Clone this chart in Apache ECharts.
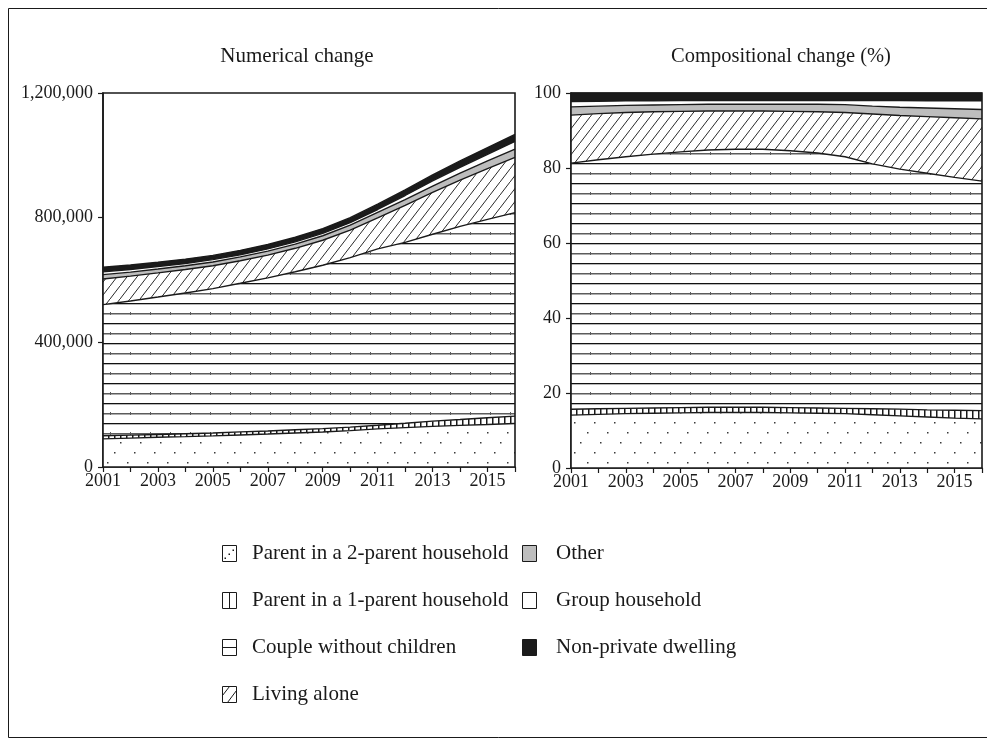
<!DOCTYPE html>
<html>
<head>
<meta charset="utf-8">
<script src="https://cdn.jsdelivr.net/npm/echarts@6/dist/echarts.min.js"></script>
<style>
  html, body { margin: 0; padding: 0; background: #fff; }
  #chart { width: 987px; height: 747px; }
</style>
</head>
<body>
<div id="chart"></div>
<script>
// Years on the horizontal axis
const years = ['2001','2002','2003','2004','2005','2006','2007','2008',
               '2009','2010','2011','2012','2013','2014','2015','2016'];

const seriesNames = [
  'Parent in a 2-parent household',
  'Parent in a 1-parent household',
  'Couple without children',
  'Living alone',
  'Other',
  'Group household',
  'Non-private dwelling'
];

// Numerical change (persons)
const p2Count     = [90400, 92700, 95300, 97400, 99800, 102900, 105700, 109100, 112500, 116800, 122200, 126200, 130200, 133600, 136300, 139800];
const p1Count     = [9900, 9700, 9200, 9300, 9500, 9700, 10000, 10300, 10700, 11200, 11800, 14200, 16900, 18700, 21500, 23500];
const coupleCount = [420800, 430300, 440800, 451600, 463100, 476800, 491200, 507100, 524000, 544000, 565700, 580500, 599700, 619600, 636500, 653000];
const aloneCount  = [82000, 79700, 77500, 75400, 73300, 72300, 72800, 75200, 80300, 88000, 99500, 118200, 134000, 148300, 163000, 177100];
const otherCount  = [14100, 13000, 12500, 12000, 12200, 12500, 12900, 13300, 14500, 16000, 17700, 18700, 20600, 22600, 24600, 26700];
const groupCount  = [9000, 8400, 7900, 7300, 7500, 7000, 7100, 7400, 7700, 8000, 9300, 13300, 16900, 18700, 21500, 24500];
const npdCount    = [14700, 14300, 13800, 14000, 13600, 13900, 14300, 14700, 15300, 16000, 16900, 17800, 18700, 20600, 21500, 22400];

// Compositional change (% of total)
const p2Pct     = [14.1, 14.3, 14.5, 14.6, 14.7, 14.8, 14.8, 14.8, 14.7, 14.6, 14.5, 14.2, 13.9, 13.6, 13.3, 13.1];
const p1Pct     = [1.55, 1.5, 1.4, 1.4, 1.4, 1.4, 1.4, 1.4, 1.4, 1.4, 1.4, 1.6, 1.8, 1.9, 2.1, 2.2];
const couplePct = [65.65, 66.4, 67.1, 67.7, 68.2, 68.6, 68.8, 68.8, 68.5, 68.0, 67.1, 65.3, 64.0, 63.1, 62.1, 61.2];
const alonePct  = [12.8, 12.3, 11.8, 11.3, 10.8, 10.4, 10.2, 10.2, 10.5, 11.0, 11.8, 13.3, 14.3, 15.1, 15.9, 16.6];
const otherPct  = [2.2, 2.0, 1.9, 1.8, 1.8, 1.8, 1.8, 1.8, 1.9, 2.0, 2.1, 2.1, 2.2, 2.3, 2.4, 2.5];
const groupPct  = [1.4, 1.3, 1.2, 1.1, 1.1, 1.0, 1.0, 1.0, 1.0, 1.0, 1.1, 1.5, 1.8, 1.9, 2.1, 2.3];
const npdPct    = [2.3, 2.2, 2.1, 2.1, 2.0, 2.0, 2.0, 2.0, 2.0, 2.0, 2.0, 2.0, 2.0, 2.1, 2.1, 2.1];

const titles = ['Numerical change', 'Compositional change (%)'];

const FONT = '"Liberation Serif", "DejaVu Serif", serif';
const INK = '#1a1a1a';

// ---- fill patterns drawn on small tiles ----
function tile(w, h, draw) {
  const c = document.createElement('canvas');
  c.width = w; c.height = h;
  const ctx = c.getContext('2d');
  ctx.fillStyle = '#fff';
  ctx.fillRect(0, 0, w, h);
  draw(ctx, w, h);
  return { image: c, repeat: 'repeat' };
}

const dotFill = tile(20, 30, (ctx) => {
  ctx.fillStyle = '#3a3a3a';
  [[14, 2], [7, 12], [0, 22]].forEach(([x, y]) => ctx.fillRect(x, y, 1.5, 1.5));
});

const vbarFill = tile(6, 10, (ctx, w, h) => {
  ctx.fillStyle = '#1a1a1a';
  ctx.fillRect(0, 0, 1.5, h);
});

const hlineFill = tile(20, 20, (ctx, w) => {
  ctx.fillStyle = '#111';
  ctx.fillRect(0, 3, w, 1.3);
  ctx.fillStyle = '#5c5c5c';
  ctx.fillRect(0, 13, w, 1.5);
  ctx.fillRect(10, 12, 1, 3);
});

const diagFill = tile(10, 13, (ctx, w, h) => {
  ctx.strokeStyle = '#2a2a2a';
  ctx.lineWidth = 1;
  ctx.beginPath();
  ctx.moveTo(-w, 2 * h);
  ctx.lineTo(2 * w, -h);
  ctx.stroke();
});

const fills = [dotFill, vbarFill, hlineFill, diagFill, '#bdbdbd', '#ffffff', '#1b1b1b'];

const countData = [p2Count, p1Count, coupleCount, aloneCount, otherCount, groupCount, npdCount];
const pctData   = [p2Pct, p1Pct, couplePct, alonePct, otherPct, groupPct, npdPct];

function buildSeries(dataSets, idx, stackName) {
  return dataSets.map((vals, i) => ({
    name: seriesNames[i],
    type: 'line',
    xAxisIndex: idx,
    yAxisIndex: idx,
    stack: stackName,
    data: vals,
    symbol: 'none',
    silent: true,
    z: 2,
    lineStyle: { color: INK, width: 1.4 },
    areaStyle: { color: fills[i], opacity: 1 },
    animation: false
  }));
}

const grids = [
  { left: 103, right: 472, top: 93, bottom: 280 },
  { left: 571, right: 5, top: 93, bottom: 279 }
];

function xAxis(idx) {
  return {
    type: 'category',
    gridIndex: idx,
    data: years,
    boundaryGap: false,
    axisLine: { lineStyle: { color: INK, width: 1.6 } },
    axisTick: { show: true, length: 5, interval: 0, lineStyle: { color: INK, width: 1.2 } },
    axisLabel: { interval: 1, color: INK, fontFamily: FONT, fontSize: 18, margin: 5 },
    splitLine: { show: false }
  };
}

function yAxis(idx, max, interval, fmt) {
  return {
    type: 'value',
    gridIndex: idx,
    min: 0,
    max: max,
    interval: interval,
    axisLine: { show: true, lineStyle: { color: INK, width: 1.6 } },
    axisTick: { show: true, length: 5, lineStyle: { color: INK, width: 1.2 } },
    axisLabel: { color: INK, fontFamily: FONT, fontSize: 18, margin: 10, formatter: fmt },
    splitLine: { show: false }
  };
}

// ---- legend, two columns, each key box carries a small motif of its fill ----
const SW = 14, SH = 16;
function swatch(si, x, yc) {
  const x0 = x + 0.5, y0 = Math.round(yc - SH / 2) + 0.5;
  const box = { type: 'rect', shape: { x: x0, y: y0, width: SW, height: SH },
                style: { fill: typeof fills[si] === 'string' ? fills[si] : '#fff', stroke: INK, lineWidth: 1 } };
  const marks = [];
  const line = (x1, y1, x2, y2) => marks.push({ type: 'line', shape: { x1, y1, x2, y2 }, style: { stroke: INK, lineWidth: 1 } });
  const dot = (dx, dy) => marks.push({ type: 'rect', shape: { x: x0 + dx, y: y0 + dy, width: 1.5, height: 1.5 }, style: { fill: INK } });
  if (si === 0) { dot(10, 4); dot(6, 8); dot(2, 12); }
  if (si === 1) line(x0 + SW / 2, y0, x0 + SW / 2, y0 + SH);
  if (si === 2) line(x0, y0 + SH / 2, x0 + SW, y0 + SH / 2);
  if (si === 3) { line(x0, y0 + 9, x0 + 7, y0); line(x0 + 5, y0 + SH, x0 + SW, y0 + 4); }
  return [box].concat(marks);
}

const legendGraphics = [];
const legendCols = [
  { items: [0, 1, 2, 3], swatchX: 222, textX: 252 },
  { items: [4, 5, 6], swatchX: 522, textX: 556 }
];
const rowY = [553, 600, 647, 694];
legendCols.forEach(col => {
  col.items.forEach((si, r) => {
    swatch(si, col.swatchX, rowY[r]).forEach(g => legendGraphics.push(g));
    legendGraphics.push({
      type: 'text',
      x: col.textX,
      y: rowY[r],
      style: {
        text: seriesNames[si], fill: INK, font: '21px ' + FONT,
        verticalAlign: 'middle', align: 'left'
      }
    });
  });
});

// outer frame round the whole figure
const frameGraphics = [
  { type: 'rect', shape: { x: 8.5, y: 8.5, width: 1000, height: 729 },
    style: { fill: 'none', stroke: INK, lineWidth: 1 }, z: 0 }
];

const chart = echarts.init(document.getElementById('chart'), null, { renderer: 'canvas' });

chart.setOption({
  backgroundColor: '#fff',
  animation: false,
  title: [
    { text: titles[0], left: 292, top: 41, textAlign: 'center',
      textStyle: { fontFamily: FONT, fontSize: 21, fontWeight: 'normal', color: INK } },
    { text: titles[1], left: 776, top: 41, textAlign: 'center',
      textStyle: { fontFamily: FONT, fontSize: 20.5, fontWeight: 'normal', color: INK } }
  ],
  grid: grids.map(g => Object.assign({ show: true, borderColor: INK, borderWidth: 1.6, backgroundColor: 'transparent', z: 3 }, g)),
  xAxis: [xAxis(0), xAxis(1)],
  yAxis: [
    yAxis(0, 1200000, 400000, v => v.toLocaleString('en-US')),
    yAxis(1, 100, 20, v => String(v))
  ],
  series: buildSeries(countData, 0, 'count').concat(buildSeries(pctData, 1, 'pct')),
  graphic: frameGraphics.concat(legendGraphics)
});
</script>
</body>
</html>
